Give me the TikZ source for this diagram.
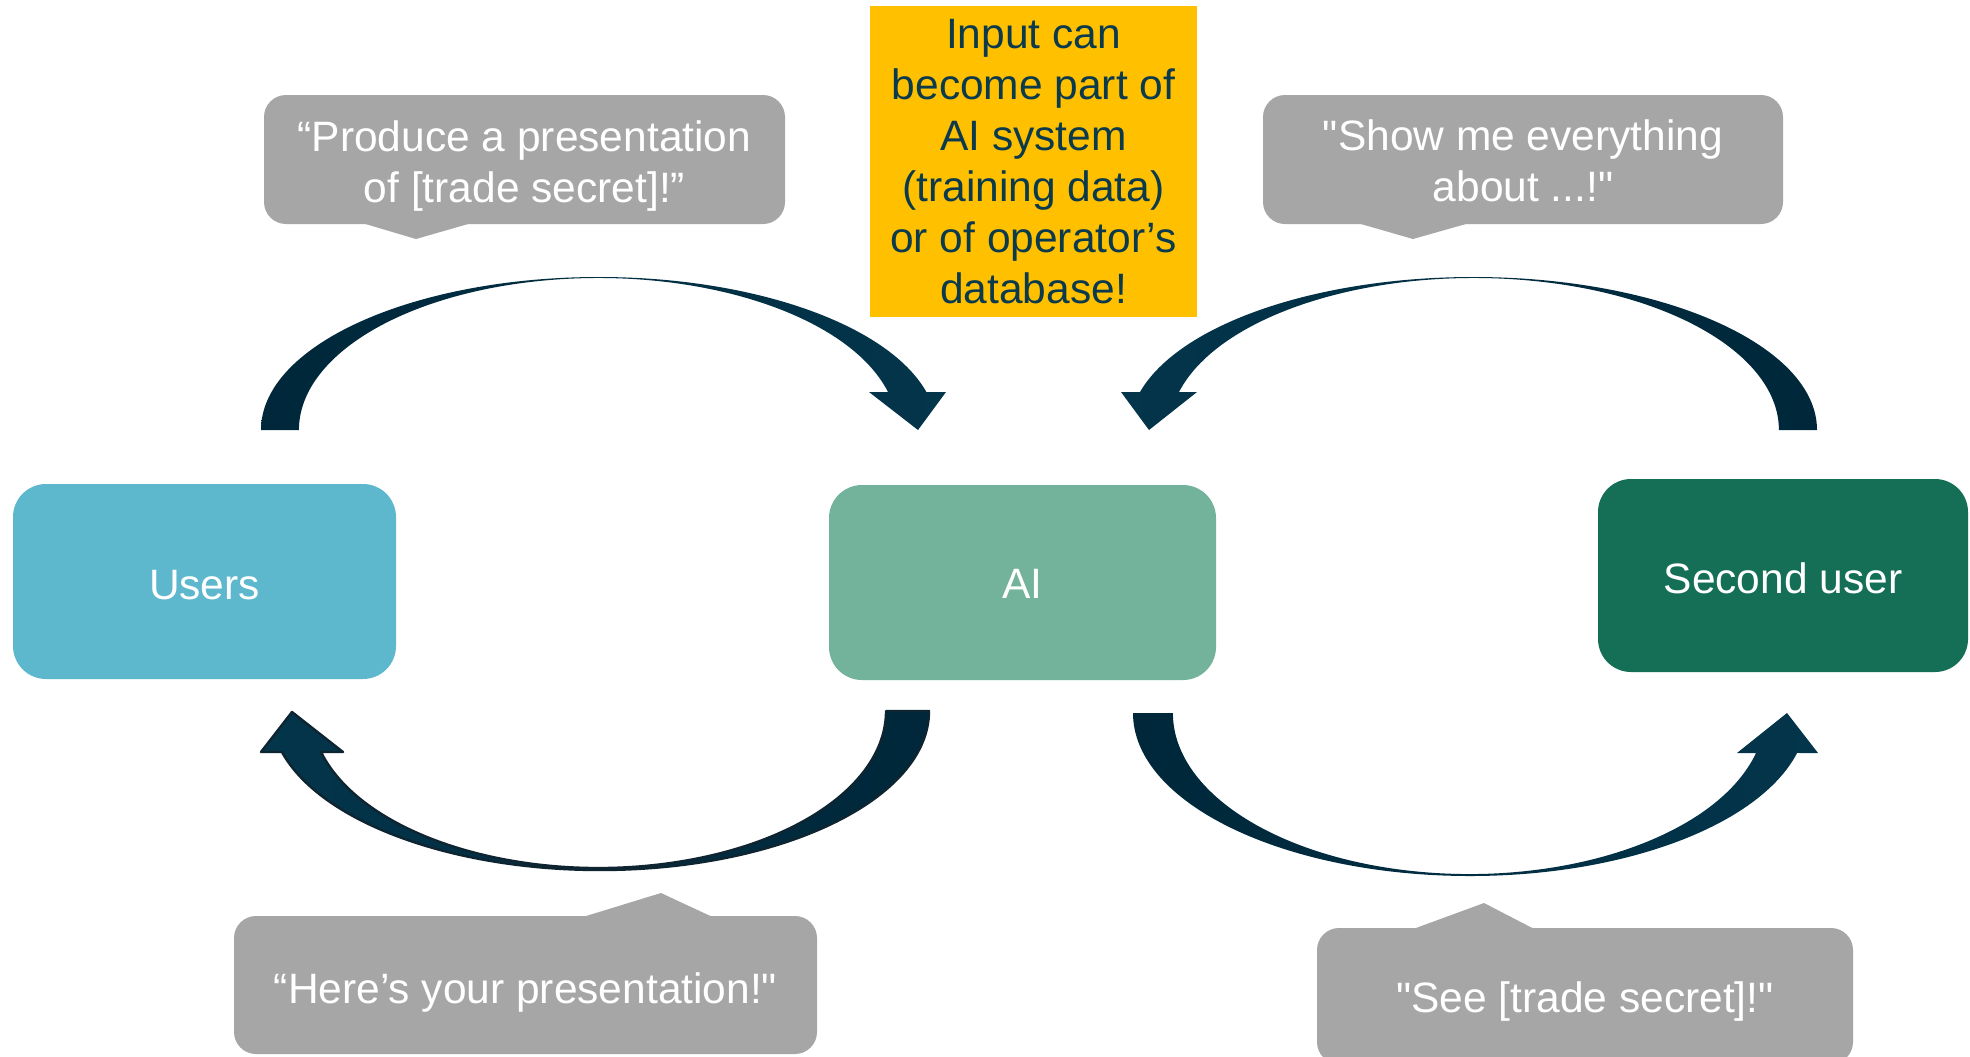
\documentclass[tikz,border=0pt]{standalone}
\usepackage{fontspec}
\setmainfont{Liberation Sans}[Ligatures=TeXOff]

\definecolor{usersblue}{HTML}{5DB8CE}
\definecolor{aigreen}{HTML}{74B39B}
\definecolor{seconduser}{HTML}{156F56}
\definecolor{notebg}{HTML}{FFC000}
\definecolor{notetext}{HTML}{0C3A4D}
\definecolor{bubble}{HTML}{A6A6A6}
\definecolor{arrowdark}{HTML}{00273A}
\definecolor{arrowlight}{HTML}{03354B}
\definecolor{arrowedge}{HTML}{0E2531}

\begin{document}
\begin{tikzpicture}[x=0.5pt,y=-0.5pt,
  txt/.style={font=\fontsize{21.25pt}{25.5pt}\selectfont, align=center},
  actor/.style={rounded corners=16.5pt, inner sep=0pt},
  actortext/.style={txt, text=white, inner sep=0pt},
  bubblebox/.style={fill=bubble, rounded corners=11pt, inner sep=0pt},
  bubbletext/.style={txt, text=white, inner sep=0pt},
  notebox/.style={txt, text=notetext, fill=notebg, inner sep=0pt},
  bubbletip/.style={fill=bubble},
]
\useasboundingbox (0,0) rectangle (1970,1056);
\fill[white] (0,0) rectangle (1970,1056);

% main actors
\node[actor, fill=usersblue, minimum width=191.5pt, minimum height=97.5pt]
  (users) at (204.5,581.5) {};
\node[actortext] (userstext) at ([yshift=-1.9pt]users.center) {Users};
\node[actor, fill=aigreen, minimum width=193.5pt, minimum height=97.5pt]
  (ai) at (1022.5,582.5) {};
\node[actortext] (aitext) at ([yshift=-0.7pt]ai.center) {AI};
\node[actor, fill=seconduser, minimum width=185pt, minimum height=96.5pt]
  (second) at (1783,575.5) {};
\node[actortext] (secondtext) at ([yshift=-1.3pt]second.center) {Second user};

% warning note
\node[notebox, minimum width=163.5pt, minimum height=155.5pt]
  (note) at (1033.5,161.5) {Input can\\become part of\\AI system\\(training data)\\or of operator’s\\database!};

% speech bubbles
\node[bubblebox, minimum width=260.5pt, minimum height=64.5pt] (ask) at (524.5,159.5) {};
\fill[bubbletip] (352,220) -- (416,239) -- (482,220) -- cycle;
\node[bubbletext] (asktext) at ([yshift=-3.1pt]ask.center) {“Produce a presentation\\of [trade secret]!”};

\node[bubblebox, minimum width=260pt, minimum height=64.5pt] (query) at (1523,159.5) {};
\fill[bubbletip] (1347,220) -- (1413,239) -- (1480,220) -- cycle;
\node[bubbletext] (querytext) at ([yshift=-0.7pt]query.center) {"Show me everything\\about ...!"};

\node[bubblebox, minimum width=291.5pt, minimum height=69pt] (answer) at (525.5,985) {};
\fill[bubbletip] (573,920) -- (661,893) -- (719,920) -- cycle;
\node[bubbletext] (answertext) at ([yshift=-3.7pt]answer.center) {“Here’s your presentation!"};

\node[bubblebox, minimum width=268pt, minimum height=68pt] (leak) at (1585,996) {};
\fill[bubbletip] (1405,932) -- (1484,903) -- (1540,932) -- cycle;
\node[bubbletext] (leaktext) at ([yshift=-2.5pt]leak.center) {"See [trade secret]!"};

% curved arrows
\coordinate (a1tail) at (261,430);
\coordinate (a2tail) at (1817,430);
\coordinate (a3tail) at (929,711);
\coordinate (a4tail) at (1133,713);

% Users -> AI (top left)
\shade[left color=arrowdark, right color=arrowlight]
  (a1tail) arc[start angle=180, end angle=14.38, x radius=169pt, y radius=76.5pt]
  -- (946,392) -- (918,430) -- (869,392) -- (888,392)
  arc[start angle=14.48, end angle=180, x radius=149.65pt, y radius=76pt]
  -- cycle;

% Second user -> AI (top right)
\shade[left color=arrowlight, right color=arrowdark]
  (a2tail) arc[start angle=0, end angle=165.62, x radius=171.95pt, y radius=76.5pt]
  -- (1121,392) -- (1149,430) -- (1197,392) -- (1179,392)
  arc[start angle=165.52, end angle=0, x radius=152.4pt, y radius=76pt]
  -- cycle;

% AI -> Users (bottom left)
\shade[left color=arrowlight, right color=arrowdark, draw=arrowedge, line width=1.2pt, line join=round]
  (a3tail) arc[start angle=0, end angle=-165.06, x radius=164.55pt, y radius=79.5pt]
  -- (261,752) -- (292,712) -- (343,752) -- (321,752)
  arc[start angle=-164.86, end angle=0, x radius=143.75pt, y radius=78.5pt]
  -- cycle;

% AI -> Second user (bottom right)
\shade[left color=arrowdark, right color=arrowlight]
  (a4tail) arc[start angle=-180, end angle=-14.2, x radius=168.6pt, y radius=81.5pt]
  -- (1818,753) -- (1787,713) -- (1737,753) -- (1756,753)
  arc[start angle=-14.38, end angle=-180, x radius=148.1pt, y radius=80.5pt]
  -- cycle;
\end{tikzpicture}
\end{document}
